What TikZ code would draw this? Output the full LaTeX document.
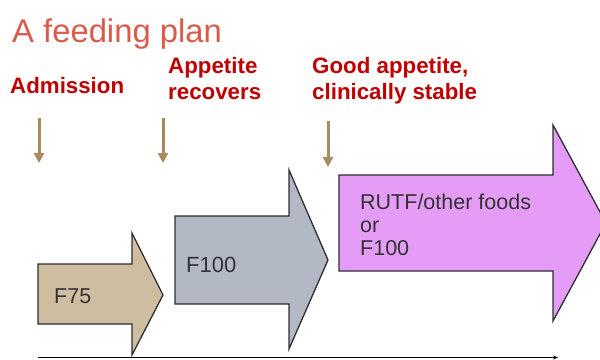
\documentclass[tikz,border=0pt]{standalone}
\usepackage{fontspec}
\setmainfont{Liberation Sans}
\usepackage{tikz}
\usetikzlibrary{arrows.meta,positioning}
\definecolor{titlered}{HTML}{D95B4B}
\definecolor{labelred}{HTML}{C00000}
\definecolor{cuebrown}{HTML}{A88A5E}
\definecolor{fseventyfive}{HTML}{CFBDA2}
\definecolor{fhundred}{HTML}{B3B9C4}
\definecolor{rutfpink}{HTML}{E49CF7}
\definecolor{edgegray}{HTML}{2E2E33}
\definecolor{textgray}{HTML}{333333}
\tikzstyle{cue} = [-{Triangle[width=10pt,length=10pt]}, line width=3pt, draw=cuebrown]
\tikzstyle{stage} = [draw=edgegray, line width=1.3pt, line join=miter]
\tikzstyle{phase} = [font=\fontsize{22.3}{26}\selectfont\bfseries, text=labelred, align=left, inner sep=0pt, anchor=base west]
\tikzstyle{food} = [text=textgray, align=left, inner sep=0pt, anchor=base west]

\begin{document}
\begin{tikzpicture}[x=1pt, y=-1pt]
    \useasboundingbox (0,0) rectangle (600,359);
    \clip (0,0) rectangle (600,359);

    % Title
    \node[font=\fontsize{32.8}{38}\selectfont, text=titlered, inner sep=0pt, anchor=base west] (title) at (12,42) {A feeding plan};

    % Phase labels (base = last line)
    \node[phase] (admission) at (10,93) {Admission};
    \node[phase] (appetite) at (168,99) {Appetite\\recovers};
    \node[phase] (stable) at (312,99) {Good appetite,\\clinically stable};

    % Cues
    \foreach \name/\x/\ytop/\ybot in {a/39/118/163, b/163/118/163, c/328/121/167} {
        \coordinate (cue\name top) at (\x,\ytop);
        \coordinate (cue\name bot) at (\x,\ybot);
        \draw[cue] (cue\name top) -- (cue\name bot);
    }

    % Stages
    \draw[stage, fill=fseventyfive] (38,264) -- (132,264) -- (132,233) -- (163,295) -- (132,355) -- (132,324) -- (38,324) -- cycle;
    \draw[stage, fill=fhundred] (175,216) -- (289,216) -- (289,170) -- (328,260) -- (289,349) -- (289,304) -- (175,304) -- cycle;
    \draw[stage, fill=rutfpink] (339,175) -- (553,175) -- (553,125) -- (606,223) -- (553,321) -- (553,271) -- (339,271) -- cycle;

    % Foods
    \node[food, font=\fontsize{21.5}{26}\selectfont] (fseventyfive) at (54,303) {F75};
    \node[food, font=\fontsize{22}{26}\selectfont] (fhundred) at (186,272) {F100};
    \node[food, font=\fontsize{21.5}{23}\selectfont] (rutf) at (360,255) {RUTF/other foods\\or\\F100};

    % Time axis
    \coordinate (axisstart) at (38,357.5);
    \coordinate (axisend) at (558,357.5);
    \draw[-{Stealth[length=5pt,width=4pt]}, line width=0.9pt] (axisstart) -- (axisend);
\end{tikzpicture}
\end{document}
